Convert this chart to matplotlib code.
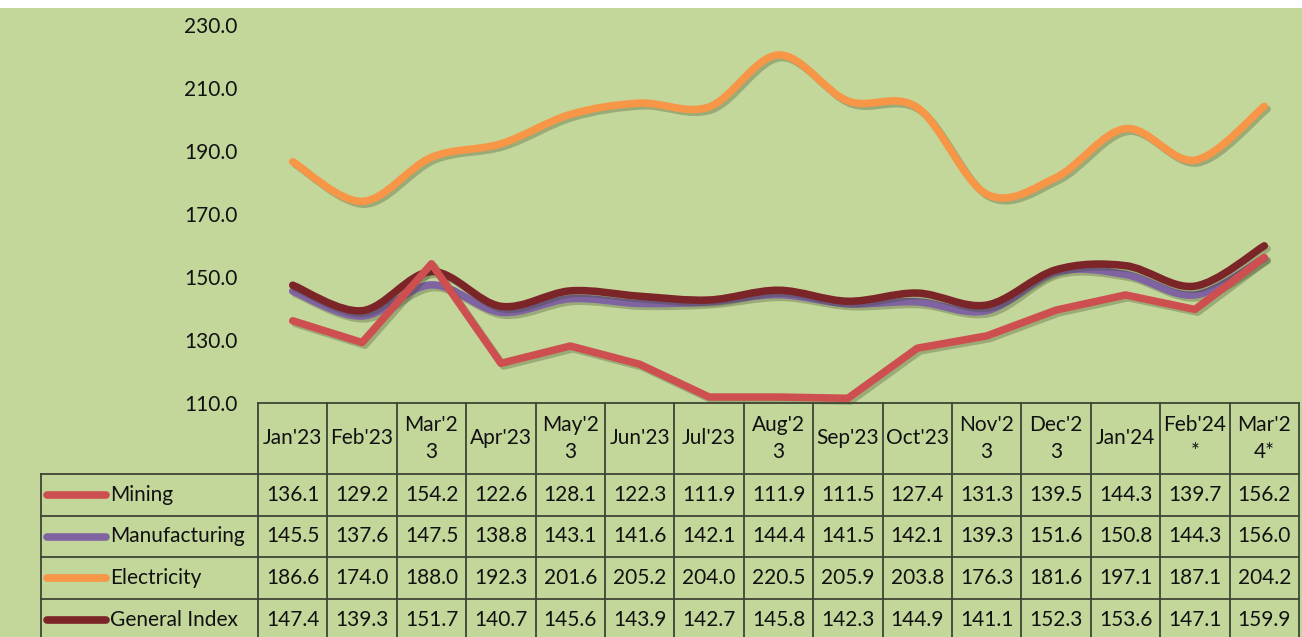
import numpy as np
import matplotlib
matplotlib.use("Agg")
import matplotlib.pyplot as plt
from matplotlib.path import Path
from matplotlib.patches import PathPatch, Rectangle
from matplotlib.lines import Line2D
import matplotlib.patheffects as pe

plt.rcParams['font.family'] = ['Lato', 'DejaVu Sans']

categories = ["Jan'23", "Feb'23", "Mar'2\n3", "Apr'23", "May'2\n3", "Jun'23", "Jul'23",
              "Aug'2\n3", "Sep'23", "Oct'23", "Nov'2\n3", "Dec'2\n3", "Jan'24", "Feb'24\n*", "Mar'2\n4*"]
mining = [136.1, 129.2, 154.2, 122.6, 128.1, 122.3, 111.9, 111.9, 111.5, 127.4, 131.3, 139.5, 144.3, 139.7, 156.2]
manufacturing = [145.5, 137.6, 147.5, 138.8, 143.1, 141.6, 142.1, 144.4, 141.5, 142.1, 139.3, 151.6, 150.8, 144.3, 156.0]
electricity = [186.6, 174.0, 188.0, 192.3, 201.6, 205.2, 204.0, 220.5, 205.9, 203.8, 176.3, 181.6, 197.1, 187.1, 204.2]
general_index = [147.4, 139.3, 151.7, 140.7, 145.6, 143.9, 142.7, 145.8, 142.3, 144.9, 141.1, 152.3, 153.6, 147.1, 159.9]
series_names = ["Mining", "Manufacturing", "Electricity", "General Index"]
series_values = [mining, manufacturing, electricity, general_index]
series_colors = ["#CD4F4F", "#8064A2", "#F79646", "#7B2528"]
series_smooth = [False, True, True, True]
y_ticks = [110, 130, 150, 170, 190, 210, 230]

BG = "#C4D79B"
GRID = "#3E4534"
W, H = 1302, 637
fig = plt.figure(figsize=(W / 100, H / 100), dpi=100, facecolor="white")
fig.add_artist(Rectangle((0, 0), 1, 1 - 8 / H, transform=fig.transFigure,
                         facecolor=BG, edgecolor="none", zorder=-10))

ax_l, ax_r, ax_t, ax_b = 258, 1299, 25, 403
ax = fig.add_axes([ax_l / W, 1 - ax_b / H, (ax_r - ax_l) / W, (ax_b - ax_t) / H])
ax.set_facecolor("none")
n = len(categories)
ax.set_xlim(-0.5, n - 0.5)
ax.set_ylim(110, 230)
for s in ax.spines.values():
    s.set_visible(False)
ax.set_xticks([])
ax.set_yticks(y_ticks)
ax.set_yticklabels([f"{v:.1f}" for v in y_ticks])
ax.tick_params(axis="y", length=0, pad=15, labelsize=15, labelcolor="#111111")

LW = 5.4


def shadow():
    return [pe.SimpleLineShadow(offset=(2, -2), alpha=0.28, shadow_color="#2f3a1c"), pe.Normal()]


def smooth_path(xs, ys):
    pts = np.column_stack([xs, ys]).astype(float)
    verts = [pts[0]]
    codes = [Path.MOVETO]
    m = len(pts)
    for i in range(m - 1):
        p0 = pts[i - 1] if i > 0 else pts[i]
        p1 = pts[i]
        p2 = pts[i + 1]
        p3 = pts[i + 2] if i + 2 < m else pts[i + 1]
        c1 = p1 + (p2 - p0) / 6.0
        c2 = p2 - (p3 - p1) / 6.0
        verts += [c1, c2, p2]
        codes += [Path.CURVE4] * 3
    return Path(verts, codes)


xs = np.arange(n)
for name, vals, col, sm in zip(series_names, series_values, series_colors, series_smooth):
    if sm:
        patch = PathPatch(smooth_path(xs, vals), facecolor="none", edgecolor=col, lw=LW,
                          capstyle="round", joinstyle="round", clip_on=False)
        patch.set_path_effects(shadow())
        ax.add_patch(patch)
    else:
        ln, = ax.plot(xs, vals, color=col, lw=LW, solid_capstyle="round",
                      solid_joinstyle="round", clip_on=False)
        ln.set_path_effects(shadow())

# ---- data table ----
tr = ax.get_xaxis_transform()
ax_h = ax_b - ax_t


def ay(p):
    return (ax_b - p) / ax_h


def px_to_x(px):
    return (px - ax_l) / (ax_r - ax_l) * n - 0.5


row_lines = [474, 516, 557, 599]
bottom_px = 650
left_px = 41
lk = dict(color=GRID, lw=1.3, transform=tr, clip_on=False)
ax.add_line(Line2D([-0.5, n - 0.5], [ay(403), ay(403)], **lk))
for rp in row_lines:
    ax.add_line(Line2D([px_to_x(left_px), n - 0.5], [ay(rp), ay(rp)], **lk))
for k in range(n + 1):
    ax.add_line(Line2D([k - 0.5, k - 0.5], [ay(403), ay(bottom_px)], **lk))
ax.add_line(Line2D([px_to_x(left_px), px_to_x(left_px)], [ay(474), ay(bottom_px)], **lk))

fs = 15
tc = "#111111"
for i, lab in enumerate(categories):
    ax.text(i, ay(438.5), lab, transform=tr, ha="center", va="center", fontsize=fs,
            color=tc, linespacing=1.45, clip_on=False)

row_centers = [495, 536.5, 578, 620]
for r, (name, vals, col) in enumerate(zip(series_names, series_values, series_colors)):
    yc = ay(row_centers[r])
    ax.add_line(Line2D([px_to_x(47), px_to_x(106)], [yc, yc], color=col, lw=5.5,
                       solid_capstyle="round", transform=tr, clip_on=False))
    ax.text(px_to_x(110), yc, name, transform=tr, ha="left", va="center", fontsize=fs,
            color=tc, clip_on=False)
    for i, v in enumerate(vals):
        ax.text(i, yc, f"{v:.1f}", transform=tr, ha="center", va="center", fontsize=fs,
                color=tc, clip_on=False)

fig.savefig("out.png", dpi=100, facecolor="white")
